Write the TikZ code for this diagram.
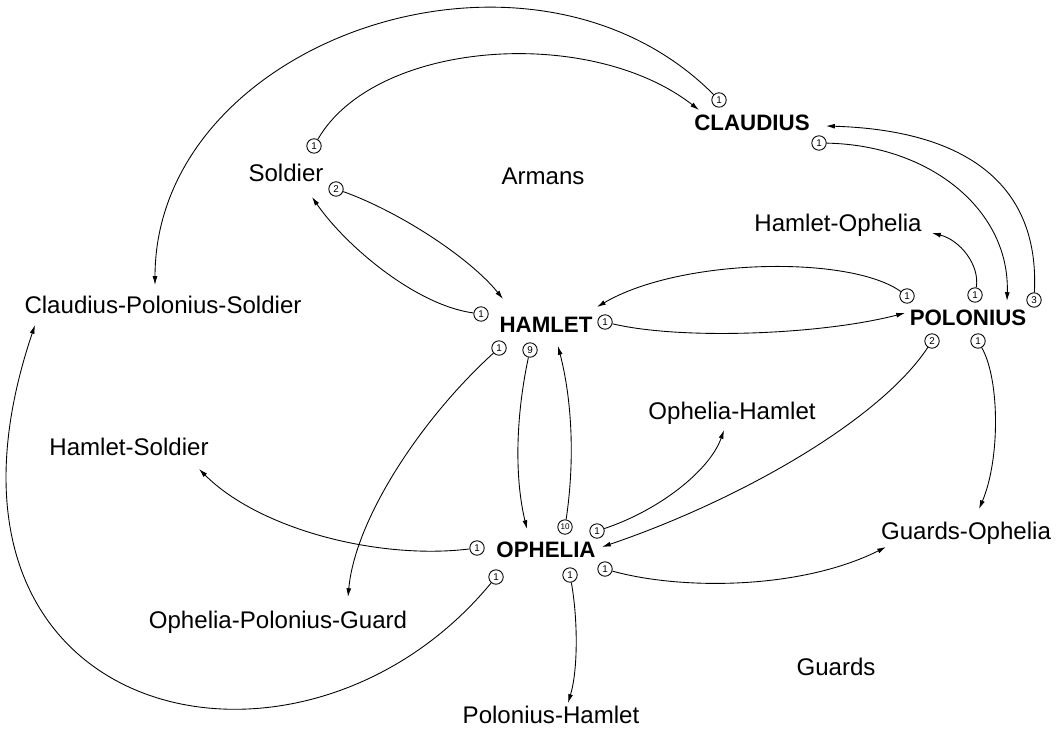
\documentclass[tikz,border=0pt]{standalone}
\usepackage{fontspec}
\setmainfont{Liberation Sans}
\usetikzlibrary{arrows.meta,calc}
\begin{document}
\begin{tikzpicture}[x=0.02cm,y=-0.02cm,
		role/.style={font=\fontsize{13.7}{16}\selectfont,anchor=base,inner sep=0pt},
		lead/.style={font=\fontsize{12.7}{15}\selectfont\bfseries,anchor=base,inner sep=0pt},
		num/.style={circle,draw,line width=0.5pt,inner sep=0pt,minimum size=8.2pt,font=\fontsize{5.6}{5}\selectfont},
		link/.style={line width=0.5pt,-{Latex[length=5pt,width=2.8pt]}}]
	\useasboundingbox (0,0) rectangle (1060,729);

	% names
	\node[lead] (claudius) at (752,131) {CLAUDIUS};
	\node[lead] (hamlet) at (546,332) {HAMLET};
	\node[lead] (polonius) at (968,325) {POLONIUS};
	\node[lead] (ophelia) at (546,557) {OPHELIA};
	\node[role] (soldier) at (286,182) {Soldier};
	\node[role] (armans) at (543,185) {Armans};
	\node[role] (hamletophelia) at (838,232) {Hamlet-Ophelia};
	\node[role] (cps) at (163,313) {Claudius-Polonius-Soldier};
	\node[role] (opheliahamlet) at (732,419) {Ophelia-Hamlet};
	\node[role] (hamletsoldier) at (129,455) {Hamlet-Soldier};
	\node[role] (guardsophelia) at (966,539) {Guards-Ophelia};
	\node[role] (opg) at (278,628) {Ophelia-Polonius-Guard};
	\node[role] (guards) at (836,675) {Guards};
	\node[role] (poloniushamlet) at (551,723) {Polonius-Hamlet};

	% counts
	\node[num] (cl1) at (719,100) {1};
	\node[num] (cl2) at (819,143) {1};
	\node[num] (so1) at (314,146) {1};
	\node[num] (so2) at (336,189) {2};
	\node[num] (ha1) at (481,314) {1};
	\node[num] (ha2) at (605,322) {1};
	\node[num] (ha3) at (499,348) {1};
	\node[num] (ha4) at (530,350) {9};
	\node[num] (po1) at (907,296) {1};
	\node[num] (po2) at (975,295) {1};
	\node[num] (po3) at (1034,300) {3};
	\node[num] (po4) at (932,341) {2};
	\node[num] (po5) at (978,341) {1};
	\node[num,font=\fontsize{4.6}{4}\selectfont] (op1) at (565,527) {10};
	\node[num] (op2) at (597,531) {1};
	\node[num] (op3) at (477,548) {1};
	\node[num] (op4) at (605,569) {1};
	\node[num] (op5) at (570,575) {1};
	\node[num] (op6) at (496,577) {1};

	\draw[link] (cl1) .. controls (530,-90) and (155,40) .. ($(cps.base)+(-8,-28)$);
	\draw[link] (so1) .. controls (375,40) and (590,25) .. ($(claudius.base)+(-53,-21)$);
	\draw[link] (so2) .. controls (400,212) and (470,258) .. ($(hamlet.base)+(-43,-33)$);
	\draw[link] (ha1) .. controls (415,305) and (345,245) .. ($(soldier.base)+(26,15)$);
	\draw[link] (po1) .. controls (850,255) and (680,258) .. ($(hamlet.base)+(51,-25)$);
	\draw[link] (ha2) .. controls (680,340) and (820,335) .. ($(polonius.base)+(-63,-12)$);
	\draw[link] (po2) .. controls (980,265) and (960,240) .. ($(hamletophelia.base)+(94,1)$);
	\draw[link] (cl2) .. controls (930,145) and (1010,210) .. ($(polonius.base)+(39,-24)$);
	\draw[link] (po3) .. controls (1040,180) and (960,130) .. ($(claudius.base)+(74,-5)$);
	\draw[link] (ha3) .. controls (420,420) and (355,520) .. ($(opg.base)+(70,-31)$);
	\draw[link] (ha4) .. controls (515,420) and (515,480) .. ($(ophelia.base)+(-19,-28)$);
	\draw[link] (op1) .. controls (575,460) and (572,400) .. ($(hamlet.base)+(12,14)$);
	\draw[link] (po4) .. controls (880,420) and (740,500) .. ($(ophelia.base)+(56,-10)$);
	\draw[link] (po5) .. controls (1000,380) and (1000,460) .. ($(guardsophelia.base)+(13,-30)$);
	\draw[link] (op2) .. controls (660,510) and (710,470) .. ($(opheliahamlet.base)+(-8,11)$);
	\draw[link] (op3) .. controls (380,560) and (260,530) .. ($(hamletsoldier.base)+(70,14)$);
	\draw[link] (op4) .. controls (680,590) and (800,590) .. ($(guardsophelia.base)+(-80,8)$);
	\draw[link] (op5) .. controls (578,620) and (578,670) .. ($(poloniushamlet.base)+(17,-20)$);
	\draw[link] (op6) .. controls (300,815) and (-100,725) .. ($(cps.base)+(-128,12)$);
\end{tikzpicture}
\end{document}
